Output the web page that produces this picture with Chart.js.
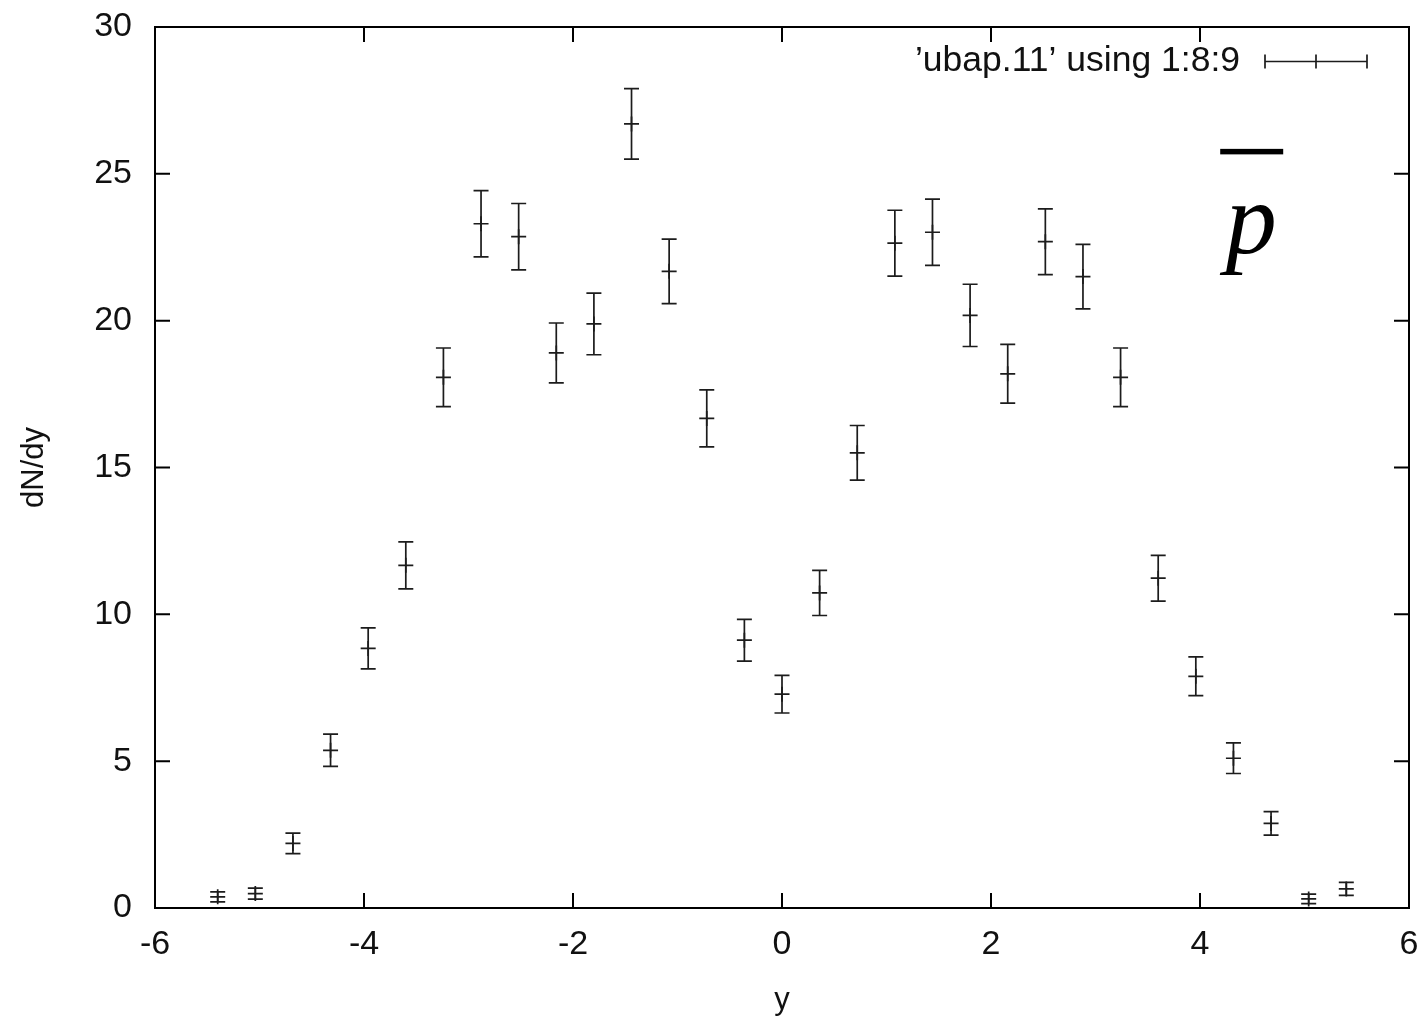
<!DOCTYPE html>
<html>
<head>
<meta charset="utf-8">
<title>dN/dy vs y</title>
<script src="https://cdn.jsdelivr.net/npm/chart.js@4.4.1/dist/chart.umd.min.js"></script>
<style>
  html, body { margin: 0; padding: 0; background: #ffffff; }
  #wrap { width: 1428px; height: 1022px; }
</style>
</head>
<body>
<div id="wrap"><canvas id="c" width="1428" height="1022"></canvas></div>
<script>
// Rapidity bins (column 1), yield dN/dy (column 8) and its error (column 9)
const yPos = [-5.4, -5.04, -4.68, -4.32, -3.96, -3.6, -3.24, -2.88, -2.52, -2.16, -1.8,
              -1.44, -1.08, -0.72, -0.36, 0, 0.36, 0.72, 1.08, 1.44, 1.8, 2.16,
              2.52, 2.88, 3.24, 3.6, 3.96, 4.32, 4.68, 5.04, 5.4];
const dNdy = [0.38, 0.49, 2.2, 5.37, 8.84, 11.67, 18.07, 23.3, 22.86, 18.9, 19.89,
              26.7, 21.68, 16.67, 9.12, 7.28, 10.73, 15.5, 22.64, 23.01, 20.18, 18.19,
              22.69, 21.5, 18.07, 11.23, 7.89, 5.1, 2.88, 0.31, 0.65];
const dNdyErr = [0.17, 0.19, 0.35, 0.55, 0.70, 0.80, 1.0, 1.13, 1.13, 1.02, 1.05,
                 1.2, 1.1, 0.97, 0.71, 0.64, 0.77, 0.93, 1.12, 1.13, 1.06, 1.0,
                 1.12, 1.1, 1.0, 0.78, 0.66, 0.52, 0.4, 0.16, 0.22];

// Axis ranges and tick steps
const xRange = [-6, 6];
const yRange = [0, 30];
const xStep = 2;
const yStep = 5;

const seriesLabel = "\u2019ubap.11\u2019 using 1:8:9";
const particleLabel = "p";
const xTitle = "y";
const yTitle = "dN/dy";

const INK = '#1c1c1c';
const SANS = '"Liberation Sans", Arial, Helvetica, sans-serif';

// Vertical error bars with caps, drawn through the chart scales
const errorBars = {
  id: 'errorBars',
  afterDatasetsDraw(chart) {
    const { ctx, scales: { x, y } } = chart;
    const cap = 7.5;
    ctx.save();
    ctx.strokeStyle = INK;
    ctx.lineWidth = 1.7;
    yPos.forEach((v, i) => {
      const px = x.getPixelForValue(v);
      const lo = y.getPixelForValue(dNdy[i] - dNdyErr[i]);
      const hi = y.getPixelForValue(dNdy[i] + dNdyErr[i]);
      ctx.beginPath();
      ctx.moveTo(px, lo); ctx.lineTo(px, hi);
      ctx.moveTo(px - cap, lo); ctx.lineTo(px + cap, lo);
      ctx.moveTo(px - cap, hi); ctx.lineTo(px + cap, hi);
      ctx.stroke();
    });
    ctx.restore();
  }
};

// Border box with inward ticks mirrored on all four sides
const frame = {
  id: 'frame',
  afterDraw(chart) {
    const { ctx, chartArea: a, scales: { x, y } } = chart;
    const tl = 15;
    ctx.save();
    ctx.strokeStyle = '#000';
    ctx.lineWidth = 2;
    ctx.beginPath();
    x.ticks.forEach(t => {
      const px = x.getPixelForValue(t.value);
      ctx.moveTo(px, a.bottom); ctx.lineTo(px, a.bottom - tl);
      ctx.moveTo(px, a.top); ctx.lineTo(px, a.top + tl);
    });
    y.ticks.forEach(t => {
      const py = y.getPixelForValue(t.value);
      ctx.moveTo(a.left, py); ctx.lineTo(a.left + tl, py);
      ctx.moveTo(a.right, py); ctx.lineTo(a.right - tl, py);
    });
    ctx.stroke();
    ctx.strokeRect(a.left, a.top, a.right - a.left, a.bottom - a.top);
    ctx.restore();
  }
};

// Key in the top-right corner and the particle symbol
const keyAndSymbol = {
  id: 'keyAndSymbol',
  afterDraw(chart) {
    const { ctx, chartArea: a, scales: { x, y } } = chart;
    ctx.save();
    // key text
    const keyY = a.top + 34.5;
    ctx.fillStyle = '#111';
    ctx.font = '35.5px ' + SANS;
    ctx.textAlign = 'right';
    ctx.textBaseline = 'middle';
    ctx.fillText(chart.data.datasets[0].label, a.right - 169, keyY);
    // key sample: horizontal bar with end caps and a cross
    const s0 = a.right - 144, s1 = a.right - 42, sm = (s0 + s1) / 2;
    ctx.strokeStyle = INK;
    ctx.lineWidth = 1.7;
    ctx.beginPath();
    ctx.moveTo(s0, keyY); ctx.lineTo(s1, keyY);
    ctx.moveTo(s0, keyY - 7); ctx.lineTo(s0, keyY + 7);
    ctx.moveTo(s1, keyY - 7); ctx.lineTo(s1, keyY + 7);
    ctx.moveTo(sm, keyY - 7); ctx.lineTo(sm, keyY + 7);
    ctx.stroke();
    // antiproton symbol: italic p with a bar over it
    const cx = x.getPixelForValue(4.49);
    const base = y.getPixelForValue(22.3);
    ctx.fillStyle = '#000';
    ctx.font = 'italic 102px "Liberation Serif", "Times New Roman", serif';
    ctx.textAlign = 'center';
    ctx.textBaseline = 'alphabetic';
    ctx.fillText(particleLabel, cx, base);
    ctx.fillRect(cx - 31, y.getPixelForValue(25.85), 63, 5.5);
    ctx.restore();
  }
};

new Chart(document.getElementById('c'), {
  type: 'scatter',
  data: {
    datasets: [{
      label: seriesLabel,
      data: yPos.map((v, i) => ({ x: v, y: dNdy[i] })),
      pointStyle: 'cross',
      pointRadius: 7.5,
      pointHoverRadius: 7.5,
      borderColor: INK,
      backgroundColor: INK,
      borderWidth: 1.7,
      showLine: false
    }]
  },
  options: {
    responsive: false,
    animation: false,
    events: [],
    layout: { padding: { left: 0, right: 19, top: 27, bottom: 0 } },
    plugins: {
      legend: { display: false },
      tooltip: { enabled: false }
    },
    scales: {
      x: {
        type: 'linear',
        min: xRange[0], max: xRange[1],
        // label gap comes from an invisible outside tick
        grid: { display: true, drawOnChartArea: false, drawTicks: true, tickLength: 16, tickColor: 'rgba(0,0,0,0)' },
        border: { display: false },
        ticks: {
          stepSize: xStep,
          color: '#111',
          padding: 0,
          font: { family: SANS, size: 34 }
        },
        title: {
          display: true,
          text: xTitle,
          color: '#111',
          padding: { top: 0, bottom: 3 },
          font: { family: SANS, size: 31 }
        },
        afterFit(scale) { scale.height = 114; }
      },
      y: {
        type: 'linear',
        min: yRange[0], max: yRange[1],
        grid: { display: true, drawOnChartArea: false, drawTicks: true, tickLength: 23, tickColor: 'rgba(0,0,0,0)' },
        border: { display: false },
        ticks: {
          stepSize: yStep,
          color: '#111',
          padding: 0,
          font: { family: SANS, size: 34 }
        },
        title: {
          display: true,
          text: yTitle,
          color: '#111',
          padding: { top: 16, bottom: 0 },
          font: { family: SANS, size: 31 }
        },
        afterFit(scale) { scale.width = 155; }
      }
    }
  },
  plugins: [errorBars, frame, keyAndSymbol]
});
</script>
</body>
</html>
